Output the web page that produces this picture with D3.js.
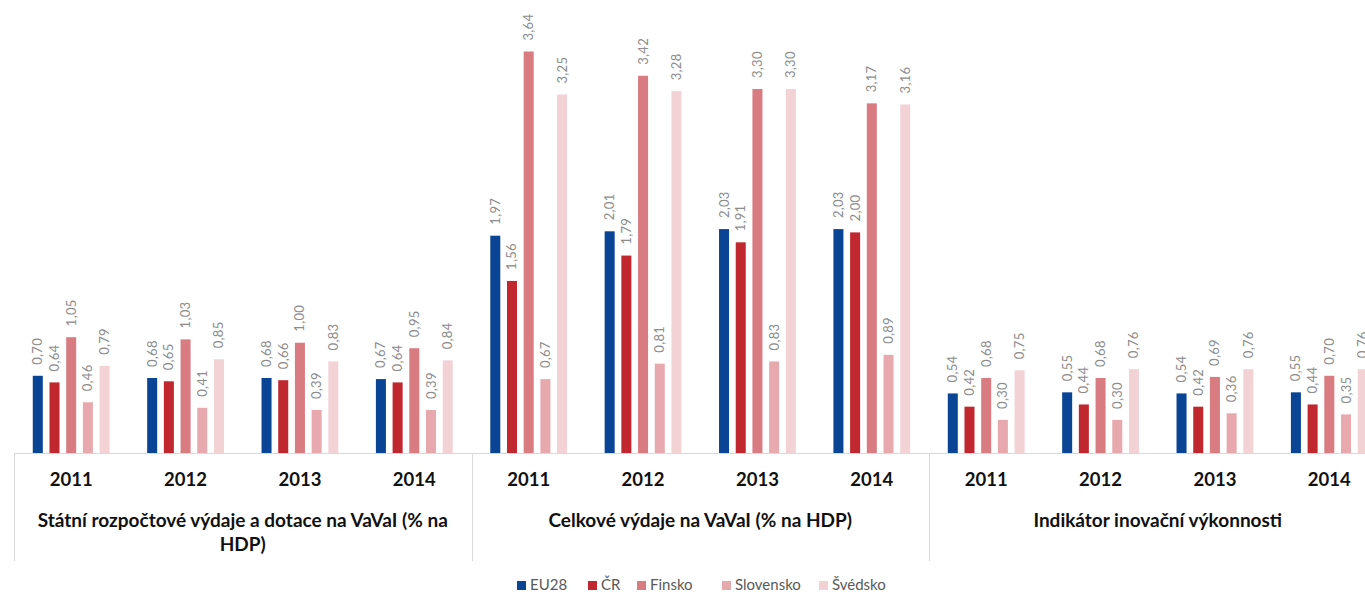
<!DOCTYPE html>
<html>
<head>
<meta charset="utf-8">
<script src="https://cdn.jsdelivr.net/npm/d3@7"></script>
<style>
    body { margin: 0; background: #fff; }
    svg { display: block; }
</style>
</head>
<body>
<div id="graphsRoot"></div>
<script>

// categories
var groups = ["Státní rozpočtové výdaje a dotace na VaVaI (% na HDP)", "Celkové výdaje na VaVaI (% na HDP)", "Indikátor inovační výkonnosti"];
var groupLines = [["Státní rozpočtové výdaje a dotace na VaVaI (% na", "HDP)"], ["Celkové výdaje na VaVaI (% na HDP)"], ["Indikátor inovační výkonnosti"]];
var years = ["2011", "2012", "2013", "2014"];
var series = ["EU28", "ČR", "Finsko", "Slovensko", "Švédsko"];
var colors = ["#0a4595", "#c0272f", "#d97c82", "#e8a9ae", "#f3d2d6"];

// values per group, per year: [EU28, ČR, Finsko, Slovensko, Švédsko]
var statniValues = [
    [0.70, 0.64, 1.05, 0.46, 0.79],
    [0.68, 0.65, 1.03, 0.41, 0.85],
    [0.68, 0.66, 1.00, 0.39, 0.83],
    [0.67, 0.64, 0.95, 0.39, 0.84]
];
var celkoveValues = [
    [1.97, 1.56, 3.64, 0.67, 3.25],
    [2.01, 1.79, 3.42, 0.81, 3.28],
    [2.03, 1.91, 3.30, 0.83, 3.30],
    [2.03, 2.00, 3.17, 0.89, 3.16]
];
var indikatorValues = [
    [0.54, 0.42, 0.68, 0.30, 0.75],
    [0.55, 0.44, 0.68, 0.30, 0.76],
    [0.54, 0.42, 0.69, 0.36, 0.76],
    [0.55, 0.44, 0.70, 0.35, 0.76]
];
var allValues = [statniValues, celkoveValues, indikatorValues];

// flatten into records for d3
var records = [];
for (var g = 0; g < groups.length; g++) {
    for (var y = 0; y < years.length; y++) {
        for (var s = 0; s < series.length; s++) {
            records.push({group: groups[g], year: years[y], series: series[s], value: allValues[g][y][s]});
        }
    }
}

var width = 1365, height = 593;
var svg = d3.select("#graphsRoot").append("svg")
    .attr("width", width)
    .attr("height", height);

var baseY = 453;
var groupStep = 457.5;
var left = 14;

var x0 = d3.scaleBand()
    .domain(groups)
    .range([left, left + groupStep * groups.length]);

var x1 = d3.scaleBand()
    .domain(years)
    .range([0, x0.bandwidth()]);

// 5 bars spanning ~83px centred in the year band
var half = 41.75;
var x2 = d3.scaleBand()
    .domain(series)
    .range([x1.bandwidth() / 2 - half, x1.bandwidth() / 2 + half])
    .paddingInner(0.4)
    .paddingOuter(0.2);

var yScale = d3.scaleLinear()
    .domain([0, 4])
    .range([baseY, baseY - 4 * 110.3]);

var color = d3.scaleOrdinal().domain(series).range(colors);

function barX(d) { return x0(d.group) + x1(d.year) + x2(d.series); }

// bars
svg.append("g").selectAll("rect")
    .data(records)
    .enter().append("rect")
    .attr("x", barX)
    .attr("y", function(d) { return yScale(d.value); })
    .attr("width", x2.bandwidth())
    .attr("height", function(d) { return baseY - yScale(d.value); })
    .attr("fill", function(d) { return color(d.series); });

// value labels, rotated
var fmt = function(v) { return d3.format(".2f")(v).replace(".", ","); };
svg.append("g").selectAll("text")
    .data(records)
    .enter().append("text")
    .attr("transform", function(d) {
        return "translate(" + (barX(d) + x2.bandwidth() / 2 + 4.5) + "," + (yScale(d.value) - 11) + ") rotate(-90)";
    })
    .attr("font-family", "Lato, 'Open Sans', sans-serif")
    .attr("font-size", 13)
    .attr("letter-spacing", 0.3)
    .attr("fill", "#8c8c8c")
    .text(function(d) { return fmt(d.value); });

// axis line and group separators
svg.append("line")
    .attr("x1", left).attr("x2", width)
    .attr("y1", baseY + 0.5).attr("y2", baseY + 0.5)
    .attr("stroke", "#d9d9d9");

svg.append("g").selectAll("line")
    .data(groups)
    .enter().append("line")
    .attr("x1", function(d) { return Math.round(x0(d)) + 0.5; })
    .attr("x2", function(d) { return Math.round(x0(d)) + 0.5; })
    .attr("y1", baseY).attr("y2", 561)
    .attr("stroke", "#d9d9d9");

// year labels
var yearRecords = [];
groups.forEach(function(g) { years.forEach(function(y) { yearRecords.push({group: g, year: y}); }); });
svg.append("g").selectAll("text")
    .data(yearRecords)
    .enter().append("text")
    .attr("x", function(d) { return x0(d.group) + x1(d.year) + x1.bandwidth() / 2; })
    .attr("y", 486)
    .attr("text-anchor", "middle")
    .attr("font-family", "Lato, 'Open Sans', sans-serif")
    .attr("font-weight", "bold")
    .attr("font-size", 18.5)
    .attr("fill", "#111")
    .text(function(d) { return d.year; });

// group titles
var titles = svg.append("g").selectAll("text")
    .data(groups)
    .enter().append("text")
    .attr("x", function(d) { return x0(d) + x0.bandwidth() / 2; })
    .attr("y", 527)
    .attr("text-anchor", "middle")
    .attr("font-family", "Lato, 'Open Sans', sans-serif")
    .attr("font-weight", "bold")
    .attr("font-size", 19)
    .attr("fill", "#111");

titles.each(function(d, i) {
    var t = d3.select(this);
    groupLines[i].forEach(function(line, j) {
        t.append("tspan")
            .attr("x", x0(d) + x0.bandwidth() / 2)
            .attr("dy", j == 0 ? 0 : 24)
            .text(line);
    });
});

// legend
var legendX = [517, 588, 637, 722, 819];
var legend = svg.append("g").selectAll("g")
    .data(series)
    .enter().append("g")
    .attr("transform", function(d, i) { return "translate(" + legendX[i] + ",580)"; });

legend.append("rect")
    .attr("width", 9).attr("height", 9)
    .attr("y", 1)
    .attr("fill", function(d) { return color(d); });

legend.append("text")
    .attr("x", 13)
    .attr("y", 10)
    .attr("font-family", "Lato, 'Open Sans', sans-serif")
    .attr("font-size", 15)
    .attr("fill", "#595959")
    .text(function(d) { return d; });

</script>
</body>
</html>
